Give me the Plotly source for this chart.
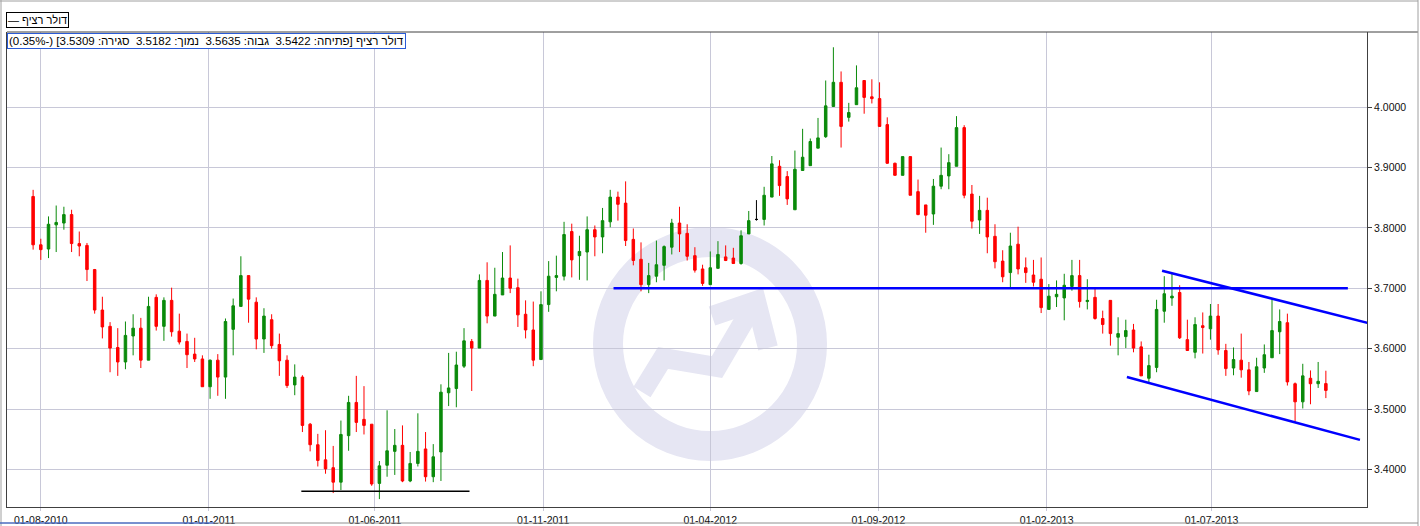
import plotly.graph_objects as go
import pandas as pd

# ---------------- data (weekly USD/ILS candles) ----------------
first_week = "2010-07-25"

opens = [3.852, 3.772, 3.765, 3.805, 3.808, 3.822, 3.774, 3.771, 3.731, 3.664,
         3.637, 3.602, 3.578, 3.621, 3.634, 3.581, 3.685, 3.637, 3.680, 3.629,
         3.612, 3.591, 3.583, 3.537, 3.581, 3.553, 3.632, 3.670, 3.721, 3.677,
         3.616, 3.648, 3.607, 3.581, 3.540, 3.553, 3.475, 3.441, 3.416, 3.403,
         3.379, 3.456, 3.511, 3.483, 3.475, 3.377, 3.407, 3.430, 3.440, 3.381,
         3.410, 3.434, 3.388, 3.429, 3.527, 3.534, 3.571, 3.612, 3.601, 3.713,
         3.654, 3.689, 3.717, 3.701, 3.657, 3.631, 3.582, 3.673, 3.718, 3.720,
         3.794, 3.754, 3.760, 3.797, 3.785, 3.810, 3.851, 3.841, 3.781, 3.748,
         3.706, 3.720, 3.738, 3.768, 3.808, 3.791, 3.754, 3.732, 3.706, 3.733,
         3.752, 3.750, 3.741, 3.790, 3.814, 3.814, 3.851, 3.902, 3.885, 3.830,
         3.895, 3.903, 3.932, 3.951, 4.001, 4.041, 3.983, 4.004, 4.044, 4.017,
         4.014, 3.971, 3.907, 3.887, 3.918, 3.860, 3.838, 3.823, 3.869, 3.886,
         3.902, 3.966, 3.856, 3.813, 3.829, 3.786, 3.745, 3.726, 3.773, 3.734,
         3.722, 3.715, 3.665, 3.686, 3.684, 3.703, 3.721, 3.678, 3.685, 3.650,
         3.680, 3.619, 3.620, 3.631, 3.603, 3.551, 3.569, 3.662, 3.684, 3.693,
         3.615, 3.594, 3.638, 3.633, 3.654, 3.597, 3.568, 3.581, 3.565, 3.529,
         3.568, 3.585, 3.628, 3.643, 3.542, 3.512, 3.551, 3.542, 3.5422]

highs = [3.863, 3.782, 3.819, 3.837, 3.835, 3.830, 3.794, 3.775, 3.732, 3.686,
         3.644, 3.634, 3.645, 3.657, 3.651, 3.686, 3.690, 3.685, 3.701, 3.658,
         3.625, 3.618, 3.589, 3.582, 3.591, 3.650, 3.683, 3.753, 3.721, 3.685,
         3.667, 3.657, 3.625, 3.589, 3.574, 3.556, 3.477, 3.459, 3.465, 3.439,
         3.481, 3.522, 3.555, 3.538, 3.475, 3.414, 3.498, 3.467, 3.473, 3.429,
         3.493, 3.462, 3.442, 3.541, 3.593, 3.595, 3.634, 3.616, 3.723, 3.743,
         3.734, 3.760, 3.771, 3.716, 3.680, 3.678, 3.695, 3.745, 3.754, 3.810,
         3.807, 3.787, 3.819, 3.804, 3.833, 3.863, 3.860, 3.877, 3.799, 3.776,
         3.742, 3.779, 3.771, 3.815, 3.835, 3.806, 3.768, 3.739, 3.761, 3.778,
         3.771, 3.767, 3.796, 3.828, 3.846, 3.868, 3.919, 3.912, 3.894, 3.928,
         3.964, 3.948, 3.982, 4.044, 4.099, 4.059, 4.007, 4.069, 4.044, 4.046,
         4.041, 3.983, 3.908, 3.918, 3.918, 3.880, 3.838, 3.881, 3.933, 3.922,
         3.985, 3.970, 3.871, 3.853, 3.850, 3.806, 3.763, 3.792, 3.802, 3.751,
         3.747, 3.751, 3.707, 3.713, 3.724, 3.747, 3.747, 3.715, 3.699, 3.663,
         3.680, 3.652, 3.648, 3.641, 3.612, 3.590, 3.681, 3.720, 3.725, 3.705,
         3.648, 3.652, 3.660, 3.674, 3.674, 3.608, 3.602, 3.625, 3.578, 3.585,
         3.607, 3.682, 3.665, 3.658, 3.544, 3.575, 3.564, 3.578, 3.5635]

lows = [3.764, 3.747, 3.750, 3.760, 3.797, 3.760, 3.753, 3.712, 3.658, 3.617,
        3.561, 3.555, 3.566, 3.589, 3.568, 3.581, 3.630, 3.613, 3.620, 3.607,
        3.568, 3.578, 3.537, 3.517, 3.522, 3.517, 3.589, 3.670, 3.643, 3.599,
        3.593, 3.600, 3.555, 3.535, 3.523, 3.462, 3.430, 3.405, 3.393, 3.361,
        3.366, 3.431, 3.462, 3.458, 3.373, 3.351, 3.388, 3.391, 3.379, 3.379,
        3.405, 3.380, 3.379, 3.381, 3.505, 3.503, 3.568, 3.530, 3.601, 3.642,
        3.654, 3.689, 3.692, 3.636, 3.617, 3.571, 3.582, 3.661, 3.695, 3.713,
        3.718, 3.714, 3.713, 3.753, 3.758, 3.801, 3.812, 3.770, 3.738, 3.695,
        3.692, 3.710, 3.713, 3.756, 3.760, 3.746, 3.726, 3.704, 3.706, 3.733,
        3.745, 3.741, 3.739, 3.790, 3.812, 3.804, 3.851, 3.853, 3.838, 3.830,
        3.895, 3.903, 3.932, 3.949, 4.001, 3.933, 3.976, 4.004, 3.989, 4.006,
        3.967, 3.906, 3.887, 3.887, 3.854, 3.821, 3.792, 3.805, 3.864, 3.864,
        3.902, 3.849, 3.799, 3.790, 3.758, 3.733, 3.710, 3.701, 3.723, 3.709,
        3.703, 3.659, 3.665, 3.669, 3.647, 3.696, 3.668, 3.665, 3.648, 3.625,
        3.605, 3.589, 3.601, 3.594, 3.555, 3.544, 3.561, 3.643, 3.671, 3.616,
        3.597, 3.584, 3.592, 3.615, 3.590, 3.555, 3.556, 3.552, 3.523, 3.529,
        3.560, 3.585, 3.591, 3.539, 3.479, 3.501, 3.508, 3.535, 3.5182]

closes = [3.772, 3.764, 3.806, 3.809, 3.822, 3.774, 3.770, 3.731, 3.664, 3.636,
          3.601, 3.578, 3.622, 3.634, 3.581, 3.670, 3.637, 3.680, 3.628, 3.611,
          3.590, 3.583, 3.537, 3.581, 3.553, 3.645, 3.671, 3.721, 3.682, 3.616,
          3.654, 3.605, 3.580, 3.539, 3.553, 3.473, 3.441, 3.415, 3.401, 3.379,
          3.458, 3.511, 3.478, 3.473, 3.376, 3.406, 3.431, 3.440, 3.381, 3.410,
          3.430, 3.388, 3.421, 3.528, 3.535, 3.573, 3.613, 3.601, 3.713, 3.654,
          3.690, 3.717, 3.700, 3.656, 3.631, 3.581, 3.673, 3.720, 3.721, 3.789,
          3.747, 3.761, 3.797, 3.785, 3.812, 3.851, 3.839, 3.779, 3.746, 3.706,
          3.721, 3.739, 3.769, 3.808, 3.790, 3.753, 3.730, 3.708, 3.734, 3.756,
          3.746, 3.741, 3.787, 3.812, 3.814, 3.854, 3.906, 3.870, 3.848, 3.897,
          3.917, 3.943, 3.949, 4.002, 4.041, 3.968, 3.991, 4.032, 4.016, 4.014,
          3.968, 3.907, 3.887, 3.918, 3.854, 3.822, 3.821, 3.869, 3.887, 3.908,
          3.966, 3.854, 3.811, 3.829, 3.785, 3.744, 3.719, 3.770, 3.732, 3.726,
          3.710, 3.668, 3.687, 3.690, 3.705, 3.721, 3.678, 3.680, 3.650, 3.640,
          3.625, 3.625, 3.630, 3.601, 3.555, 3.572, 3.665, 3.691, 3.687, 3.618,
          3.597, 3.640, 3.635, 3.654, 3.598, 3.567, 3.582, 3.565, 3.530, 3.570,
          3.590, 3.630, 3.645, 3.545, 3.512, 3.555, 3.542, 3.546, 3.5309]

price_ticks = [3.4, 3.5, 3.6, 3.7, 3.8, 3.9, 4.0]

# analyst lines drawn on the chart
resistance_dates = ["2012-01-04", "2013-11-02"]
resistance_vals = [3.700, 3.700]
channel_top_dates = ["2013-05-17", "2013-11-28"]
channel_top_vals = [3.729, 3.639]
channel_bot_dates = ["2013-04-15", "2013-11-13"]
channel_bot_vals = [3.553, 3.449]
support_dates = ["2011-03-26", "2011-08-26"]
support_vals = [3.364, 3.364]

legend_text = "— דולר רציף"
info_text = "\u202bדולר רציף [פתיחה: 3.5422  גבוה: 3.5635  נמוך: 3.5182  סגירה: 3.5309] (-0.35%)\u202c"

# ---------------- styling ----------------
GREEN = "#0a8a0a"
RED = "#ff0000"
GRID = "rgb(200,200,216)"
AXIS = "#404040"
WM = "rgb(230,230,243)"
FONT = "Liberation Sans, Arial, DejaVu Sans, sans-serif"

dates = pd.date_range(first_week, periods=len(opens), freq="7D")
reg = [i for i in range(len(opens)) if opens[i] != closes[i]]
doji = [i for i in range(len(opens)) if opens[i] == closes[i]]

fig = go.Figure()


def pick(arr, idx):
    return [arr[i] for i in idx]


fig.add_trace(go.Candlestick(
    x=pick(dates, reg), open=pick(opens, reg), high=pick(highs, reg),
    low=pick(lows, reg), close=pick(closes, reg),
    increasing=dict(line=dict(color=GREEN, width=1), fillcolor=GREEN),
    decreasing=dict(line=dict(color=RED, width=1), fillcolor=RED),
    whiskerwidth=0, showlegend=False, hoverinfo="skip"))

if doji:
    fig.add_trace(go.Candlestick(
        x=pick(dates, doji), open=pick(opens, doji), high=pick(highs, doji),
        low=pick(lows, doji), close=pick(closes, doji),
        increasing=dict(line=dict(color="black", width=1), fillcolor="black"),
        decreasing=dict(line=dict(color="black", width=1), fillcolor="black"),
        whiskerwidth=0, showlegend=False, hoverinfo="skip"))

for dx, vy, col, w in [(resistance_dates, resistance_vals, "#0000ff", 2.5),
                       (channel_top_dates, channel_top_vals, "#0000ff", 2.5),
                       (channel_bot_dates, channel_bot_vals, "#0000ff", 2.5),
                       (support_dates, support_vals, "#000000", 1.5)]:
    fig.add_trace(go.Scatter(x=dx, y=vy, mode="lines", line=dict(color=col, width=w),
                             showlegend=False, hoverinfo="skip"))

# ---------------- layout ----------------
L, R, T, B = 7, 53, 32, 19
W, H = 1420, 526
pw, ph = W - L - R, H - T - B


def px(x):
    return (x - L) / pw


def py(y):
    return (H - B - y) / ph


shapes = []
# watermark logo (ring + rising arrow), drawn below gridlines
cx, cy = px(710), py(344)
shapes.append(dict(type="circle", xref="paper", yref="paper", layer="below",
                   xsizemode="pixel", ysizemode="pixel", xanchor=cx, yanchor=cy,
                   x0=-102, x1=102, y0=-102, y1=102,
                   line=dict(color=WM, width=30), fillcolor="rgba(0,0,0,0)"))
shapes.append(dict(type="path", xref="paper", yref="paper", layer="below",
                   xsizemode="pixel", ysizemode="pixel", xanchor=cx, yanchor=cy,
                   path="M -68,-48 L -47,-14 L 7,-23 L 44,40",
                   line=dict(color=WM, width=20)))
shapes.append(dict(type="path", xref="paper", yref="paper", layer="below",
                   xsizemode="pixel", ysizemode="pixel", xanchor=cx, yanchor=cy,
                   path="M 2,28 L 46,43 L 58,-4",
                   line=dict(color=WM, width=20)))
# outer frame lines
shapes.append(dict(type="line", xref="paper", yref="paper", x0=px(L), x1=px(1418),
                   y0=py(T), y1=py(T), line=dict(color=AXIS, width=1)))
shapes.append(dict(type="line", xref="paper", yref="paper", x0=px(1418), x1=px(1418),
                   y0=py(0), y1=py(526), line=dict(color="#a0a0a0", width=1)))
shapes.append(dict(type="line", xref="paper", yref="paper", x0=px(0), x1=px(1418),
                   y0=py(1), y1=py(1), line=dict(color="#a0a0a0", width=1)))
shapes.append(dict(type="line", xref="paper", yref="paper", x0=px(1), x1=px(1),
                   y0=py(0), y1=py(526), line=dict(color="#a0a0a0", width=1)))
# top edge of the panel below
shapes.append(dict(type="line", xref="paper", yref="paper", x0=px(0), x1=px(1418),
                   y0=py(523), y1=py(523), line=dict(color="#909090", width=1)))
shapes.append(dict(type="line", xref="paper", yref="paper", x0=px(0), x1=px(214),
                   y0=py(523), y1=py(523), line=dict(color="#2a5bd7", width=1)))

fig.update_layout(
    width=W, height=H,
    margin=dict(l=L, r=R, t=T, b=B, pad=0, autoexpand=False),
    paper_bgcolor="white", plot_bgcolor="white",
    font=dict(family=FONT, size=11, color="#101010"),
    boxgap=0.5, boxgroupgap=0.35,
    showlegend=False,
    shapes=shapes,
    xaxis=dict(type="date", range=["2010-07-01 06:00", "2013-11-19 10:00"],
               tick0="2010-08-01", dtick="M5", tickformat="%d-%m-%Y",
               showgrid=True, gridcolor=GRID, gridwidth=1,
               showline=True, linecolor=AXIS, linewidth=1,
               ticks="outside", ticklen=3, tickcolor=GRID,
               tickfont=dict(size=10.5), rangeslider=dict(visible=False),
               zeroline=False, fixedrange=True, automargin=False),
    yaxis=dict(side="right", range=[3.3379, 4.1243], tickmode="array",
               tickvals=price_ticks, tickformat=".4f",
               showgrid=True, gridcolor=GRID, gridwidth=1,
               showline=True, linecolor=AXIS, linewidth=1, mirror=True,
               ticks="outside", ticklen=4, tickcolor=AXIS,
               tickfont=dict(size=10.5), zeroline=False, fixedrange=True,
               automargin=False),
    annotations=[
        dict(xref="paper", yref="paper", x=px(6), y=py(12), xanchor="left", yanchor="top",
             text=legend_text, showarrow=False, bgcolor="white", bordercolor="black",
             borderwidth=1, borderpad=1, font=dict(size=11, color="black")),
        dict(xref="paper", yref="paper", x=px(7), y=py(33), xanchor="left", yanchor="top",
             text=info_text, showarrow=False, bgcolor="white", bordercolor="#2a5bd7",
             borderwidth=1, borderpad=1, font=dict(size=11.5, color="black")),
    ],
)

fig.write_html("out.html", config={"displayModeBar": False, "staticPlot": True},
               post_script="document.body.style.margin='0';document.body.style.padding='0';")
